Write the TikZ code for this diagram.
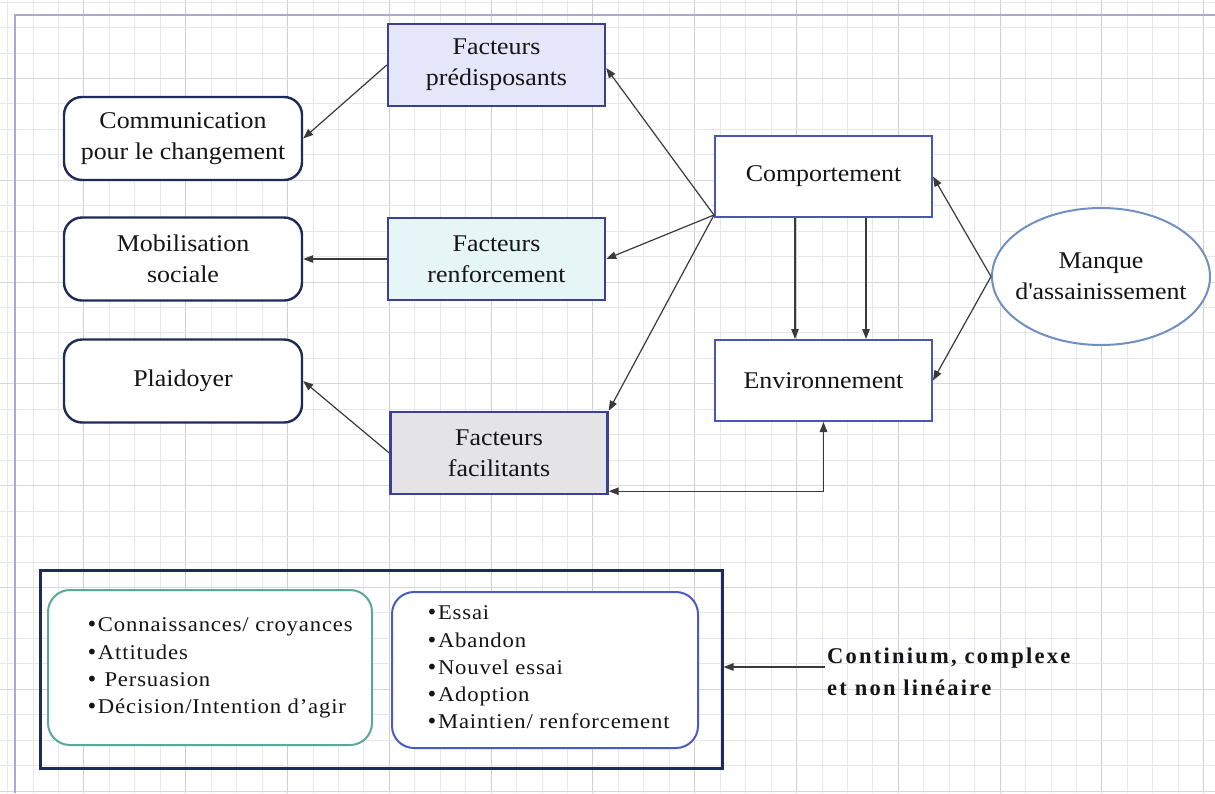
\documentclass[tikz,border=0pt]{standalone}
\usepackage{fontspec}
\setmainfont[FakeStretch=1.08]{Liberation Serif}
\newfontfamily\listfont[FakeStretch=1.08,LetterSpace=4]{Liberation Serif}
\newfontfamily\notefont[LetterSpace=10]{Liberation Serif}
\newfontfamily\bulfont{DejaVu Sans}
\usetikzlibrary{arrows.meta,calc,shapes.geometric}

\definecolor{gridlight}{HTML}{E6E6EC}
\definecolor{griddark}{HTML}{CDCDD6}
\definecolor{pageline}{HTML}{A8A8DA}
\definecolor{navy}{HTML}{1E2A58}
\definecolor{factorblue}{HTML}{3B3F98}
\definecolor{stateblue}{HTML}{4A56B4}
\definecolor{ellblue}{HTML}{7090C0}
\definecolor{tealline}{HTML}{5AA898}
\definecolor{listblue}{HTML}{4A5CC0}
\definecolor{predfill}{HTML}{E6E6FA}
\definecolor{renffill}{HTML}{E6F5F5}
\definecolor{facilfill}{HTML}{E4E4E6}
\definecolor{linkgray}{HTML}{3A3A3A}
\definecolor{ink}{HTML}{151515}

% list bullet, a little heavier than the serif one
\newcommand\bul{{\bulfont\fontsize{20}{27.3}\selectfont •}}

\tikzset{
  labelfont/.style={font=\fontsize{24}{31}\selectfont, text=ink},
  factor/.style={labelfont, draw=factorblue, line width=2.4pt,
    minimum width=217pt, minimum height=82pt, align=center, inner sep=0pt},
  action/.style={labelfont, draw=navy, line width=2.4pt, fill=white,
    rounded corners=18pt, minimum width=238pt, minimum height=83pt,
    align=center, inner sep=0pt},
  state/.style={labelfont, draw=stateblue, line width=2pt, fill=white,
    minimum width=217pt, minimum height=81pt, align=center, inner sep=0pt},
  tip/.tip={Triangle[length=10pt,width=7.5pt]},
  link/.style={draw=linkgray, line width=1.2pt, -tip},
  listbox/.style={line width=2pt, fill=white, rounded corners=22pt, inner sep=0pt},
  listtext/.style={font=\listfont\fontsize{21}{27.3}\selectfont, text=ink,
    align=left, inner sep=0pt, anchor=west},
}

\begin{document}
\begin{tikzpicture}[x=1pt,y=-1pt]
  \useasboundingbox (0,0) rectangle (1215,793);
  \fill[white] (0,0) rectangle (1215,793);

  % squared paper
  \foreach \i in {0,...,47} {
    \pgfmathtruncatemacro{\m}{mod(\i,4)}
    \ifnum\m=3
      \draw[griddark, line width=0.8pt] ({7.5+\i*25.45},0) -- ++(0,793);
    \else
      \draw[gridlight, line width=0.8pt] ({7.5+\i*25.45},0) -- ++(0,793);
    \fi
  }
  \foreach \j in {0,...,31} {
    \pgfmathtruncatemacro{\m}{mod(\j,4)}
    \ifnum\m=3
      \draw[griddark!80!white, line width=0.8pt] (0,{2+\j*25.45}) -- ++(1215,0);
    \else
      \draw[gridlight, line width=0.8pt] (0,{2+\j*25.45}) -- ++(1215,0);
    \fi
  }
  % page edge
  \draw[pageline, line width=1.4pt] (15,793) -- (15,15) -- (1215,15);

  % determinants
  \node[factor, fill=predfill]  (pred)  at (496.5,65)  {Facteurs\\prédisposants};
  \node[factor, fill=renffill]  (renf)  at (496.5,259) {Facteurs\\renforcement};
  \node[factor, fill=facilfill] (facil) at (499,453)   {Facteurs\\facilitants};

  % interventions
  \node[action] (comm)  at (183,138.5) {Communication\\pour le changement};
  \node[action] (mob)   at (183,259)   {Mobilisation\\sociale};
  \node[action] (plaid) at (183,381)   {Plaidoyer};

  % behaviour and environment
  \node[state] (comp) at (823.5,176.5) {Comportement};
  \node[state] (env)  at (823.5,380.5) {Environnement};
  \node[ellipse, draw=ellblue, line width=2pt, fill=white,
        minimum width=218pt, minimum height=137pt, inner sep=0pt]
        (ell) at (1101,276.5) {};
  \node[labelfont, align=center, inner sep=0pt] (elltext) at (ell.center)
        {Manque\\d\textquotesingle assainissement};

  % connectors
  \draw[link] (pred.west) -- (comm.east);
  \draw[link] (renf.west) -- (mob.east);
  \draw[link] (facil.west) -- (plaid.east);
  \coordinate (hub) at ($(comp.south west)+(0,-3)$);
  \draw[link] (hub) -- ($(pred.east)+(0,3)$);
  \draw[link] (hub) -- (renf.east);
  \draw[link] (hub) -- (facil.north east);
  \draw[link] (ell.west) -- (comp.east);
  \draw[link] (ell.west) -- (env.east);
  \draw[link] ($(comp.south)+(-28.5,0)$) -- ($(env.north)+(-28.5,0)$);
  \draw[link] ($(comp.south)+(42.5,0)$) -- ($(env.north)+(42.5,0)$);
  \draw[link, tip-tip] ($(facil.south east)+(0,-4)$) -| (env.south);

  % stages of change
  \node[draw=navy, line width=3pt, minimum width=682pt, minimum height=198pt,
        inner sep=0pt] (big) at (381,669) {};
  \node[listbox, draw=tealline, minimum width=324pt, minimum height=155pt]
        (stagesA) at (210,667.5) {};
  \node[listbox, draw=listblue, minimum width=306pt, minimum height=156pt]
        (stagesB) at (545,670) {};
  \node[listtext] (listA) at (86,668)
    {\bul Connaissances/ croyances\\\bul Attitudes\\\bul\ Persuasion\\\bul Décision/Intention d’agir};
  \node[listtext] (listB) at (426,667.5)
    {\bul Essai\\\bul Abandon\\\bul Nouvel essai\\\bul Adoption\\\bul Maintien/ renforcement};

  \node[font=\notefont\bfseries\fontsize{22.5}{32}\selectfont, text=ink, align=left,
        inner sep=0pt, anchor=west] (note) at (827,672)
    {Continium, complexe\\et non linéaire};
  \coordinate (tail) at (825,667);
  \draw[link] (tail) -- (tail -| big.east);
\end{tikzpicture}
\end{document}
